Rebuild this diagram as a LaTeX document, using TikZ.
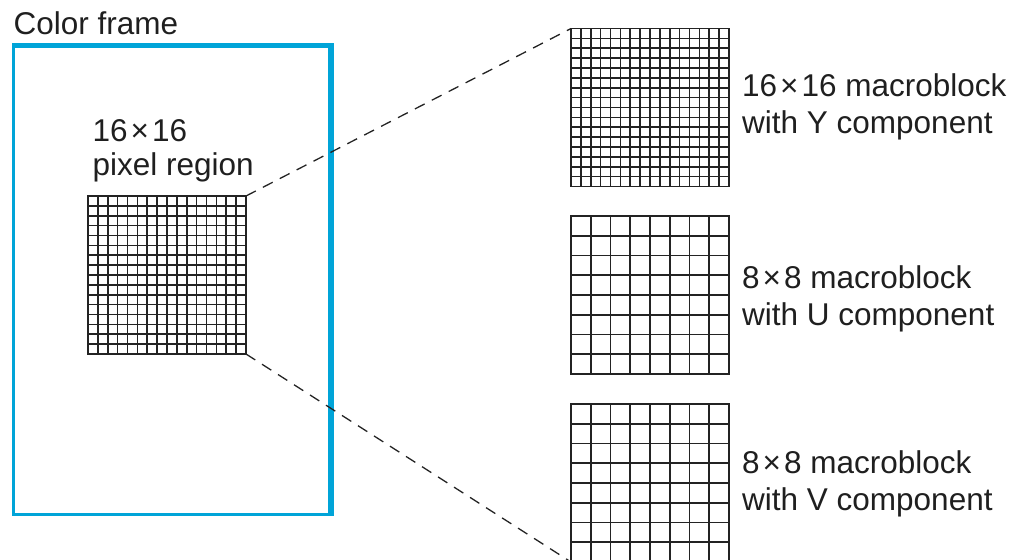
\documentclass[tikz,border=0pt]{standalone}
\usepackage{fontspec}
\setmainfont{Liberation Sans}
\usetikzlibrary{calc}
\definecolor{framecol}{RGB}{0,164,216}
\definecolor{gridcol}{RGB}{35,35,35}
\newcommand\tms{\hspace{3pt}×\hspace{3pt}}
\newcommand\fillgrid[2]{%
  \foreach \i in {1,...,#2}{%
    \draw[gridline] ($(#1.north west)+(\i*158/#2,0)$) -- ++(0,158);
    \draw[gridline] ($(#1.north west)+(0,\i*158/#2)$) -- ++(158,0);
  }}
\begin{document}
\begin{tikzpicture}[x=1pt,y=-1pt,
  gridbox/.style={draw=gridcol,line width=1.7pt,minimum size=158pt,inner sep=0pt,outer sep=0pt,anchor=north west},
  gridline/.style={draw=gridcol,line width=1.7pt},
  dashline/.style={draw=gridcol,line width=1.3pt,dash pattern=on 11pt off 8pt},
  thinframe/.style={draw=framecol,line width=2.7pt},
  thickframe/.style={draw=framecol,line width=5.8pt},
  lbl/.style={font=\fontsize{31.5}{37}\selectfont,align=left,anchor=base west,inner sep=0pt,text=black!88}]
\useasboundingbox (0,0) rectangle (1013,560);
% colour frame
\coordinate (ftl) at (13.3,45.5);
\coordinate (fbr) at (331.3,514.7);
\draw[thinframe] (ftl) rectangle (fbr);
\draw[thickframe] (12,45.5) -- (331.3,45.5) -- (331.3,515.5);
% grids
\node[gridbox] (g) at (88,196) {};
\node[gridbox] (y) at (571,28.5) {};
\node[gridbox] (u) at (571,216) {};
\node[gridbox] (v) at (571,404) {};
\fillgrid{g}{16}
\fillgrid{y}{16}
\fillgrid{u}{8}
\fillgrid{v}{8}
% dashed connectors
\draw[dashline] (g.north east) -- (y.north west);
\draw[dashline] (g.south east) -- (v.south west);
% labels
\node[lbl] (cf) at (13.5,34.5) {Color frame};
\node[lbl,font=\fontsize{31.5}{34}\selectfont] (pr) at (92.5,175.7) {16\tms16\\pixel region};
\node[lbl] (ly) at (742,133) {16\tms16 macroblock\\with Y component};
\node[lbl] (lu) at (742,325) {8\tms8 macroblock\\with U component};
\node[lbl] (lv) at (742,510) {8\tms8 macroblock\\with V component};
\end{tikzpicture}
\end{document}
